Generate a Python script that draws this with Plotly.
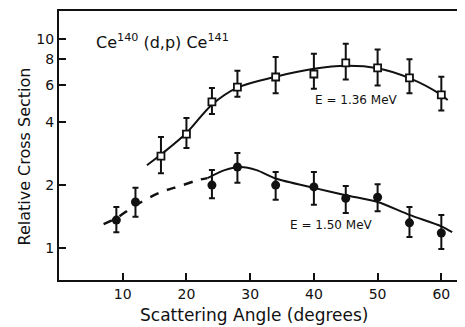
import plotly.graph_objects as go

# Data
angle_136 = [16, 20, 24, 28, 34, 40, 45, 50, 55, 60]
sigma_136 = [2.75, 3.51, 5.0, 5.89, 6.58, 6.80, 7.68, 7.27, 6.51, 5.40]
upper_136 = [3.40, 4.19, 5.83, 7.05, 8.2, 8.5, 9.5, 8.9, 8.0, 6.6]
lower_136 = [2.28, 3.01, 4.38, 5.30, 5.5, 5.78, 6.4, 6.0, 5.5, 4.55]

angle_150 = [9, 12, 24, 28, 34, 40, 45, 50, 55, 60]
sigma_150 = [1.36, 1.66, 2.00, 2.44, 2.00, 1.96, 1.73, 1.75, 1.32, 1.18]
upper_150 = [1.57, 1.94, 2.36, 2.85, 2.31, 2.31, 1.98, 2.02, 1.57, 1.44]
lower_150 = [1.19, 1.41, 1.73, 2.05, 1.70, 1.61, 1.47, 1.50, 1.13, 0.99]

# Fitted curves
fit136_x = [13.8, 16, 20, 24, 28, 34, 40, 45, 50, 55, 60, 61]
fit136_y = [2.49, 2.80, 3.55, 4.85, 5.85, 6.6, 7.2, 7.45, 7.25, 6.5, 5.4, 5.1]

fit150_dash_x = [7.0, 9, 12, 16, 19, 22, 23.3]
fit150_dash_y = [1.30, 1.39, 1.60, 1.85, 1.98, 2.12, 2.16]
fit150_x = [23.3, 26, 28.5, 31, 34, 40, 45, 50, 55, 60, 61.7]
fit150_y = [2.16, 2.36, 2.44, 2.36, 2.15, 1.94, 1.79, 1.66, 1.44, 1.27, 1.19]

y_tickvals = [1, 2, 4, 6, 8, 10]
y_ticktext = ["1", "2", "4", "6", "8", "10"]
x_tickvals = [10, 20, 30, 40, 50, 60]

FONT = "DejaVu Sans"
BLACK = "#111111"

fig = go.Figure()

fig.add_trace(go.Scatter(x=fit136_x, y=fit136_y, mode="lines",
                         line=dict(color=BLACK, width=2, shape="spline"),
                         hoverinfo="skip", showlegend=False))
fig.add_trace(go.Scatter(x=fit150_dash_x, y=fit150_dash_y, mode="lines",
                         line=dict(color=BLACK, width=2.5, shape="spline", dash="dash"),
                         hoverinfo="skip", showlegend=False))
fig.add_trace(go.Scatter(x=fit150_x, y=fit150_y, mode="lines",
                         line=dict(color=BLACK, width=2, shape="spline", smoothing=0.8),
                         hoverinfo="skip", showlegend=False))

fig.add_trace(go.Scatter(
    x=angle_136, y=sigma_136, mode="markers",
    marker=dict(symbol="square", size=7, color="white", line=dict(color=BLACK, width=1.8)),
    error_y=dict(type="data", symmetric=False,
                 array=[u - v for u, v in zip(upper_136, sigma_136)],
                 arrayminus=[v - l for v, l in zip(sigma_136, lower_136)],
                 color=BLACK, thickness=2, width=3),
    showlegend=False))

fig.add_trace(go.Scatter(
    x=angle_150, y=sigma_150, mode="markers",
    marker=dict(symbol="circle", size=9, color=BLACK),
    error_y=dict(type="data", symmetric=False,
                 array=[u - v for u, v in zip(upper_150, sigma_150)],
                 arrayminus=[v - l for v, l in zip(sigma_150, lower_150)],
                 color=BLACK, thickness=2, width=3),
    showlegend=False))

fig.add_annotation(x=0.087, y=0.885, xref="paper", yref="paper", xanchor="left", yanchor="middle",
                   text="Ce<sup>140</sup> (d,p) Ce<sup>141</sup>", showarrow=False,
                   font=dict(family=FONT, size=16, color=BLACK))
fig.add_annotation(x=0.628, y=0.669, xref="paper", yref="paper", xanchor="left", yanchor="middle",
                   text="E = 1.36 MeV", showarrow=False,
                   font=dict(family=FONT, size=12, color=BLACK))
fig.add_annotation(x=0.566, y=0.204, xref="paper", yref="paper", xanchor="left", yanchor="middle",
                   text="E = 1.50 MeV", showarrow=False,
                   font=dict(family=FONT, size=12, color=BLACK))
# axis titles
fig.add_annotation(x=0.485, y=-0.13, xref="paper", yref="paper", xanchor="center", yanchor="middle",
                   text="Scattering Angle (degrees)", showarrow=False,
                   font=dict(family=FONT, size=17, color=BLACK))
fig.add_annotation(x=-0.086, y=0.46, xref="paper", yref="paper", xanchor="center", yanchor="middle",
                   text="Relative Cross Section", showarrow=False, textangle=-90,
                   font=dict(family=FONT, size=16, color=BLACK))

fig.update_layout(
    width=457, height=319,
    margin=dict(l=51, r=2, t=3, b=47, autoexpand=False),
    paper_bgcolor="white", plot_bgcolor="white",
    font=dict(family=FONT, color=BLACK),
    xaxis=dict(range=[0, 63.4], tickvals=x_tickvals, ticks="inside", ticklen=7,
               tickwidth=2, tickcolor=BLACK, showline=True, linecolor=BLACK, linewidth=2,
               mirror=True, showgrid=False, zeroline=False, automargin=False,
               tickfont=dict(size=14, family=FONT)),
    yaxis=dict(type="log", range=[-0.153, 1.134], tickvals=y_tickvals, ticktext=y_ticktext,
               ticks="inside", ticklen=7, tickwidth=2, tickcolor=BLACK,
               showline=True, linecolor=BLACK, linewidth=2, showgrid=False, zeroline=False,
               automargin=False, tickfont=dict(size=14, family=FONT)),
)

fig.write_html("out.html")
